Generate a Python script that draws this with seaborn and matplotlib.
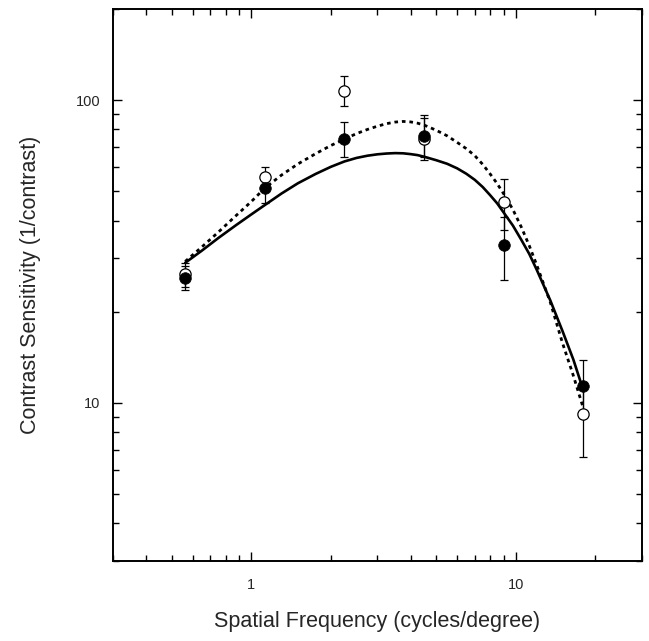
import numpy as np
import matplotlib
matplotlib.use("Agg")
import matplotlib.pyplot as plt
import seaborn as sns
from matplotlib.ticker import LogLocator, FixedLocator, NullFormatter

# measured points (spatial frequency, cycles/degree)
freq = [0.5625, 1.125, 2.25, 4.5, 9.0, 18.0]

# filled symbols
filled = [25.8, 51.1, 74.4, 76.0, 33.1, 11.4]
filled_lo = [23.5, 45.8, 64.7, 65.0, 25.4, 9.0]
filled_hi = [28.3, 56.5, 84.5, 87.0, 41.0, 13.8]

# open symbols
open_vals = [26.6, 55.8, 107.4, 74.1, 45.9, 9.2]
open_lo = [24.2, 51.5, 95.6, 63.5, 37.1, 6.6]
open_hi = [29.0, 60.3, 120.4, 89.3, 54.7, 11.7]

# fitted curves
fit_freq = [0.5625, 0.65, 0.75, 0.875, 1.0, 1.125, 1.3, 1.5, 1.75, 2.0, 2.25, 2.5,
            2.75, 3.0, 3.25, 3.5, 3.75, 4.0, 4.25, 4.5, 5.0, 5.5, 6.0, 6.5, 7.0,
            7.5, 8.0, 8.5, 9.0, 9.75, 10.5, 11.25, 12.0, 13.5, 15.0, 16.5, 18.0]
fit_solid = [29.0, 31.8, 35.0, 38.6, 41.9, 45.0, 49.1, 53.1, 57.0, 60.2, 62.7, 64.4,
             65.5, 66.2, 66.6, 66.8, 66.7, 66.3, 65.8, 65.0, 63.3, 61.6, 59.5, 57.1, 54.5,
             51.6, 48.5, 45.6, 42.5, 38.5, 34.5, 31.0, 27.5, 21.8, 17.3, 13.9, 11.0]
fit_dotted = [29.3, 32.7, 36.6, 41.5, 46.2, 51.2, 56.5, 61.5, 66.5, 70.8, 74.3, 77.5,
              80.0, 82.0, 83.6, 84.6, 85.0, 84.7, 83.9, 82.7, 79.5, 76.2, 72.5, 69.1, 65.5,
              61.3, 57.0, 53.0, 49.0, 43.5, 38.0, 33.0, 28.5, 21.5, 15.8, 12.3, 9.6]

x_ticks = [1, 10]
y_ticks = [10, 100]

sns.set_style("white")
plt.rcParams["font.family"] = ["Liberation Sans", "DejaVu Sans"]

fig = plt.figure(figsize=(6.49, 6.41), dpi=100)
ax = fig.add_axes([0.1741, 0.1248, 0.8151, 0.8612])

sns.lineplot(x=fit_freq, y=fit_dotted, ax=ax, color="black", lw=2.0,
             linestyle=(0, (1.3, 1.4)))
sns.lineplot(x=fit_freq, y=fit_solid, ax=ax, color="black", lw=1.9)

f = np.array(freq)
for vals, lo, hi in [(open_vals, open_lo, open_hi), (filled, filled_lo, filled_hi)]:
    v = np.array(vals)
    err = [v - np.array(lo), np.array(hi) - v]
    ax.errorbar(f, v, yerr=err, fmt="none", ecolor="black", elinewidth=0.9,
                capsize=3.2, capthick=0.9, zorder=3)

sns.scatterplot(x=freq, y=open_vals, ax=ax, s=66, facecolor="white",
                edgecolor="black", linewidth=0.9, zorder=4)
sns.scatterplot(x=freq, y=filled, ax=ax, s=70, color="black",
                edgecolor="black", linewidth=0.5, zorder=5)

ax.set_xscale("log")
ax.set_yscale("log")
ax.set_xlim(0.3, 30)
ax.set_ylim(3, 200)

ax.xaxis.set_major_locator(FixedLocator(x_ticks))
ax.yaxis.set_major_locator(FixedLocator(y_ticks))
ax.set_xticklabels([str(t) for t in x_ticks])
ax.set_yticklabels([str(t) for t in y_ticks])
ax.xaxis.set_minor_locator(LogLocator(base=10, subs=np.arange(2, 10)))
ax.yaxis.set_minor_locator(LogLocator(base=10, subs=np.arange(2, 10)))
ax.xaxis.set_minor_formatter(NullFormatter())
ax.yaxis.set_minor_formatter(NullFormatter())

ax.tick_params(which="both", direction="in", top=True, right=True,
               bottom=True, left=True, color="black", width=1.0)
ax.tick_params(which="major", length=6.5, labelsize=10.5)
ax.tick_params(which="minor", length=4)
ax.tick_params(axis="x", which="major", pad=12)
ax.tick_params(axis="y", which="major", pad=9)

for sp in ax.spines.values():
    sp.set_color("black")
    sp.set_linewidth(1.4)

ax.set_xlabel("Spatial Frequency (cycles/degree)", fontsize=15.5, labelpad=14)
ax.set_ylabel("Contrast Sensitivity (1/contrast)", fontsize=15.5, labelpad=25)

fig.savefig("out.png", dpi=100)
